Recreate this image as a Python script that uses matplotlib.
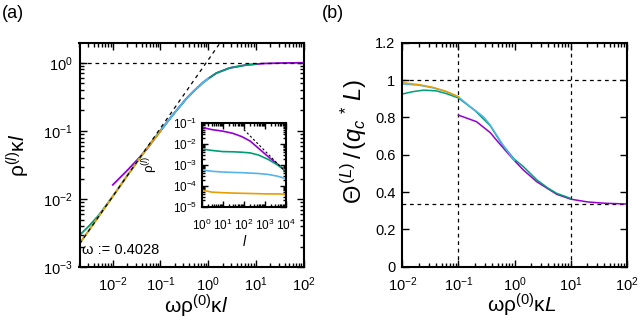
import numpy as np
import matplotlib
matplotlib.use('Agg')
import matplotlib.pyplot as plt
from matplotlib.ticker import FixedLocator, FuncFormatter, NullLocator, LogLocator

plt.rcParams['font.family'] = 'Liberation Sans'
plt.rcParams['mathtext.fontset'] = 'custom'
plt.rcParams['mathtext.rm'] = 'Liberation Sans'
plt.rcParams['mathtext.it'] = 'Liberation Sans:italic'
plt.rcParams['mathtext.bf'] = 'Liberation Sans:bold'
plt.rcParams['mathtext.sf'] = 'Liberation Sans'

# gnuplot-like colours
C_PURPLE = '#9400D3'
C_GREEN = '#009E73'
C_BLUE = '#56B4E9'
C_ORANGE = '#E69F00'

# ---- panel (a): rho^(l) kappa l vs omega rho^(0) kappa l ----
a_purple_x = [0.01, 0.02, 0.032, 0.05, 0.08, 0.178, 0.35, 0.5, 0.776, 1.0, 1.48, 2.82, 6.3, 14.5, 32, 100]
a_purple_y = [0.0162, 0.0263, 0.0372, 0.0525, 0.0813, 0.17, 0.299, 0.385, 0.512, 0.585, 0.705, 0.84, 0.929, 0.975, 0.991, 1.0]
a_green_x = [0.002, 0.0032, 0.005, 0.01, 0.02, 0.05, 0.1, 0.178, 0.35, 0.5, 0.776, 1.0, 1.48, 2.82, 6.3, 10]
a_green_y = [0.00295, 0.00407, 0.00575, 0.011, 0.022, 0.054, 0.102, 0.169, 0.298, 0.384, 0.511, 0.584, 0.704, 0.839, 0.928, 0.96]
a_blue_x = [0.002, 0.005, 0.01, 0.02, 0.05, 0.1, 0.178, 0.35, 0.5, 0.776, 1.0]
a_blue_y = [0.0022, 0.0055, 0.011, 0.022, 0.054, 0.101, 0.17, 0.299, 0.386, 0.513, 0.586]
a_orange_x = [0.002, 0.005, 0.01, 0.02, 0.05, 0.1]
a_orange_y = [0.00224, 0.0055, 0.011, 0.0219, 0.054, 0.099]
a_diag_x = [0.002, 2.0]
a_diag_y = [0.0022, 2.2]
a_hline = 1.0
omega_text = 'ω := 0.4028'

# inset: rho^(l) vs l
in_l = [1, 3, 10, 30, 80, 200, 500, 1500, 4000, 10000]
in_purple = [0.064, 0.05, 0.042, 0.033, 0.023, 0.014, 0.0063, 0.0024, 0.0011, 0.0005]
in_green = [0.0059, 0.005, 0.0044, 0.0043, 0.0041, 0.0038, 0.003, 0.0018, 0.001, 0.0005]
in_blue = [5.8e-4, 5.0e-4, 4.6e-4, 4.4e-4, 4.3e-4, 4.1e-4, 3.9e-4, 3.5e-4, 2.9e-4, 2.2e-4]
in_orange = [6.3e-5, 5.0e-5, 4.7e-5, 4.5e-5, 4.4e-5, 4.3e-5, 4.2e-5, 4.1e-5, 4.1e-5, 4.0e-5]
in_dash_l = [100, 10000]
in_dash_y = [0.05, 0.00045]

# ---- panel (b): Theta^(L)/(q_c* L) vs omega rho^(0) kappa L ----
b_orange_x = [0.01, 0.02, 0.035, 0.06, 0.1]
b_orange_y = [0.986, 0.975, 0.961, 0.94, 0.911]
b_blue_x = [0.01, 0.02, 0.035, 0.06, 0.1, 0.15, 0.28, 0.37, 0.6, 0.9, 1.0]
b_blue_y = [0.979, 0.972, 0.958, 0.938, 0.91, 0.866, 0.803, 0.759, 0.66, 0.586, 0.57]
b_green_x = [0.01, 0.015, 0.024, 0.04, 0.06, 0.1, 0.2, 0.37, 0.6, 1.0, 1.44, 2.5, 4, 5.65, 10]
b_green_y = [0.925, 0.937, 0.946, 0.942, 0.928, 0.904, 0.835, 0.755, 0.655, 0.575, 0.536, 0.465, 0.42, 0.393, 0.366]
b_purple_x = [0.1, 0.21, 0.3, 0.37, 0.5, 0.95, 1.44, 2.5, 5.65, 10, 20, 40, 100]
b_purple_y = [0.812, 0.777, 0.74, 0.718, 0.671, 0.575, 0.518, 0.455, 0.388, 0.362, 0.347, 0.34, 0.336]
b_vlines = [0.1, 10]
b_hlines = [1.0, 1 / 3]
b_yticks = [0, 0.2, 0.4, 0.6, 0.8, 1.0, 1.2]

DASH = (0, (3, 3))


def style_axes(ax, labelsize, major_len=5, minor_len=3):
    for sp in ax.spines.values():
        sp.set_linewidth(1.5)
    ax.tick_params(which='both', direction='in', top=True, right=True,
                   width=1.0, labelsize=labelsize)
    ax.tick_params(which='major', length=major_len, pad=5)
    ax.tick_params(which='minor', length=minor_len)
    ax.tick_params(axis='x', which='major', pad=6)


fig = plt.figure(figsize=(6.4, 3.26), dpi=100)

# panel (a)
ax1 = fig.add_axes([79.5 / 640, 1 - 267.3 / 326, 224 / 640, 224.6 / 326])
ax1.plot(a_purple_x, a_purple_y, color=C_PURPLE, lw=1.3)
ax1.plot(a_green_x, a_green_y, color=C_GREEN, lw=1.3)
ax1.plot(a_blue_x, a_blue_y, color=C_BLUE, lw=1.3)
ax1.plot(a_orange_x, a_orange_y, color=C_ORANGE, lw=1.3)
ax1.plot(a_diag_x, a_diag_y, color='black', lw=0.9, linestyle=DASH)
ax1.axhline(a_hline, color='black', lw=0.9, linestyle=DASH)
ax1.set_xscale('log')
ax1.set_yscale('log')
ax1.set_xlim(2e-3, 100)
ax1.set_ylim(1e-3, 1.97)
style_axes(ax1, 10.5)
ax1.text(0.012, 0.075, omega_text, transform=ax1.transAxes, fontsize=10.5,
         va='center', ha='left')
ax1.set_xlabel(r'$\mathrm{\omega\rho}^{(0)}\mathrm{\kappa}l$', fontsize=15)
ax1.set_ylabel(r'$\mathrm{\rho}^{(l)}\mathrm{\kappa}l$', fontsize=15)
ax1.xaxis.set_label_coords(0.52, -0.114)
ax1.yaxis.set_label_coords(-0.212, 0.5)

# inset
axi = fig.add_axes([201.7 / 640, 1 - 206.7 / 326, 84.3 / 640, 83.4 / 326])
axi.plot(in_l, in_purple, color=C_PURPLE, lw=1.2)
axi.plot(in_l, in_green, color=C_GREEN, lw=1.2)
axi.plot(in_l, in_blue, color=C_BLUE, lw=1.2)
axi.plot(in_l, in_orange, color=C_ORANGE, lw=1.2)
axi.plot(in_dash_l, in_dash_y, color='black', lw=0.8, linestyle=(0, (2, 2)))
axi.set_xscale('log')
axi.set_yscale('log')
axi.set_xlim(1, 1e4)
axi.set_ylim(1e-5, 1e-1)
for axis in (axi.xaxis, axi.yaxis):
    axis.set_major_locator(LogLocator(base=10, numticks=12))
    axis.set_minor_locator(LogLocator(base=10, subs=np.arange(2, 10), numticks=12))
style_axes(axi, 8.5, major_len=4, minor_len=2)
axi.tick_params(axis='y', which='major', pad=3)
axi.tick_params(axis='x', which='major', pad=8)
axi.set_xlabel(r'$l$', fontsize=10)
axi.set_ylabel(r'$\mathrm{\rho}^{(l)}$', fontsize=9.5)
axi.xaxis.set_label_coords(0.508, -0.33)
axi.yaxis.set_label_coords(-0.5, 0.51)

# panel (b)
ax2 = fig.add_axes([402.3 / 640, 1 - 266.7 / 326, 224.4 / 640, 224 / 326])
for xv in b_vlines:
    ax2.axvline(xv, color='black', lw=0.9, linestyle=DASH)
for yv in b_hlines:
    ax2.axhline(yv, color='black', lw=0.9, linestyle=DASH)
ax2.plot(b_purple_x, b_purple_y, color=C_PURPLE, lw=1.1)
ax2.plot(b_green_x, b_green_y, color=C_GREEN, lw=1.1)
ax2.plot(b_blue_x, b_blue_y, color=C_BLUE, lw=1.1)
ax2.plot(b_orange_x, b_orange_y, color=C_ORANGE, lw=1.1)
ax2.set_xscale('log')
ax2.set_xlim(0.01, 100)
ax2.set_ylim(0, 1.2)
ax2.yaxis.set_major_locator(FixedLocator(b_yticks))
ax2.yaxis.set_minor_locator(NullLocator())
ax2.yaxis.set_major_formatter(FuncFormatter(lambda v, p: '%g' % round(v, 2)))
style_axes(ax2, 10.5)
ax2.set_xlabel(r'$\mathrm{\omega\rho}^{(0)}\mathrm{\kappa}L$', fontsize=15)
ax2.set_ylabel(r'$\mathrm{\Theta}^{\,(L)}\,/\,(q_{c}{}^{\,*}\,L)$', fontsize=17)
ax2.xaxis.set_label_coords(0.533, -0.114)
ax2.yaxis.set_label_coords(-0.15, 0.56)

fig.text(2 / 640, 1 - 13 / 326, '(a)', fontsize=13, ha='left', va='center')
fig.text(322 / 640, 1 - 13 / 326, '(b)', fontsize=13, ha='left', va='center')

fig.savefig('out.png', dpi=100)
